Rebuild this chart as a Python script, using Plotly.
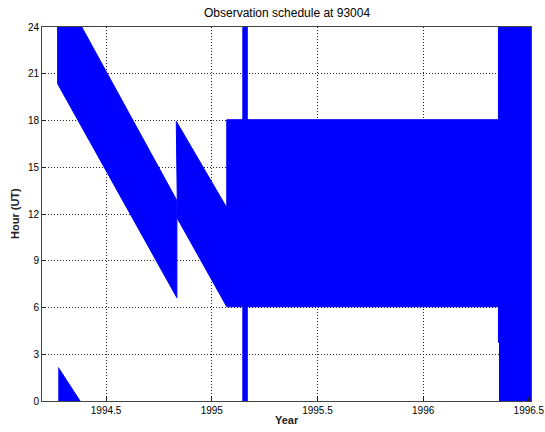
import plotly.graph_objects as go

# Observation windows, as outline polygons (year, hour UT)
band1_year = [1994.271, 1994.385, 1994.835, 1994.835, 1994.271, 1994.271]
band1_hour = [24.0, 24.0, 12.86, 6.63, 20.36, 24.0]

# wrapped part of the first window (after midnight): upper edge, filled down to 0 h
wrap1_year = [1994.274, 1994.377]
wrap1_hour = [2.15, 0.0]

band2_year = [1994.832, 1995.071, 1995.071, 1996.356, 1996.356, 1995.071, 1994.838, 1994.832]
band2_hour = [17.95, 12.4, 18.05, 18.05, 6.05, 6.05, 11.7, 17.95]

spike_year = [1995.147, 1995.168, 1995.168, 1995.147, 1995.147]
spike_hour = [0.0, 0.0, 24.0, 24.0, 0.0]

block_year = [1996.356, 1996.51, 1996.51, 1996.361, 1996.361, 1996.356, 1996.356]
block_hour = [24.0, 24.0, 0.0, 0.0, 3.76, 3.76, 24.0]

x_ticks = [1994.5, 1995, 1995.5, 1996, 1996.5]
x_tick_labels = ["1994.5", "1995", "1995.5", "1996", "1996.5"]
y_ticks = [0, 3, 6, 9, 12, 15, 18, 21, 24]

BLUE = "#0000ff"
W, H = 545, 432
L, R, T, B = 42, 14, 27, 31
FONT = "Liberation Sans, Arial, sans-serif"

fig = go.Figure()
for xs, ys in [(band1_year, band1_hour), (band2_year, band2_hour),
               (spike_year, spike_hour), (block_year, block_hour)]:
    fig.add_trace(go.Scatter(x=xs, y=ys, fill="toself", fillcolor=BLUE,
                             mode="lines", line=dict(color=BLUE, width=1, simplify=False),
                             hoverinfo="skip", showlegend=False))
fig.add_trace(go.Scatter(x=wrap1_year, y=wrap1_hour, fill="tozeroy", fillcolor=BLUE,
                         mode="lines", line=dict(color=BLUE, width=1),
                         hoverinfo="skip", showlegend=False))

axis_common = dict(showline=True, linecolor="#444444", linewidth=1, mirror=True,
                   ticks="inside", ticklen=4, tickcolor="#222222",
                   showgrid=True, gridcolor="#222222", griddash="1px,2px", gridwidth=1,
                   zeroline=False, automargin=False,
                   tickfont=dict(family=FONT, size=10, color="black"))

fig.update_layout(
    width=W, height=H,
    margin=dict(l=L, r=R, t=T, b=B),
    paper_bgcolor="white", plot_bgcolor="white",
    xaxis=dict(range=[1994.197, 1996.51], tickvals=x_ticks, ticktext=x_tick_labels,
               **axis_common),
    yaxis=dict(range=[0, 24], tickvals=y_ticks, **axis_common),
    showlegend=False,
)

fig.add_annotation(text="Observation schedule at 93004", xref="paper", yref="paper",
                   x=0.5, y=1 + 14 / (H - T - B), xanchor="center", yanchor="middle",
                   showarrow=False,
                   font=dict(family=FONT, size=12, color="black"))
fig.add_annotation(text="<b>Year</b>", xref="paper", yref="paper",
                   x=0.5, y=-19 / (H - T - B), xanchor="center", yanchor="middle",
                   showarrow=False,
                   font=dict(family=FONT, size=11, color="#222222"))
fig.add_annotation(text="<b>Hour (UT)</b>", xref="paper", yref="paper",
                   x=-27 / (W - L - R), y=0.5, xanchor="center", yanchor="middle",
                   textangle=-90, showarrow=False,
                   font=dict(family=FONT, size=11, color="#222222"))

fig.write_html("out.html", config={"displayModeBar": False},
               post_script="document.body.style.margin='0';document.body.style.overflow='hidden';")
